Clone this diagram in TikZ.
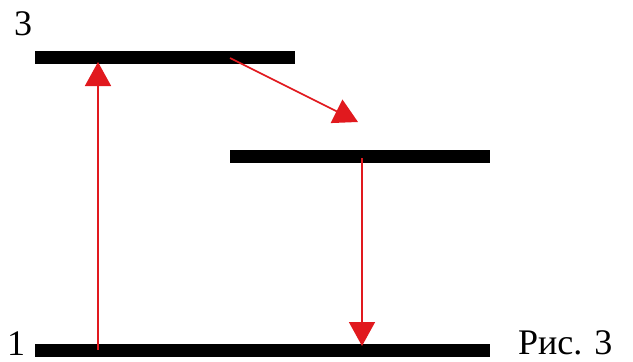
\documentclass[tikz,border=0pt]{standalone}
\usepackage{fontspec}
\setmainfont{Liberation Serif}
\usetikzlibrary{arrows.meta}
\definecolor{transRed}{RGB}{225,25,30}
\tikzset{
  level/.style={line width=13pt,black},
  trans/.style={line width=1.6pt,transRed,-{Triangle[width=26pt,length=24pt]}},
  lbl/.style={font=\fontsize{36}{40}\selectfont,inner sep=0pt},
}
\begin{document}
\begin{tikzpicture}[x=1pt,y=-1pt]
  \useasboundingbox (0,0) rectangle (633,362);
  % energy levels
  \coordinate (l3a) at (35,57);  \coordinate (l3b) at (295,57);
  \coordinate (l2a) at (230,156); \coordinate (l2b) at (490,156);
  \coordinate (l1a) at (35,350); \coordinate (l1b) at (490,350);
  \draw[level](l3a)--(l3b);
  \draw[level](l2a)--(l2b);
  \draw[level](l1a)--(l1b);

  \node[lbl] (n3) at (23,24) {3};
  \node[lbl,anchor=base] (n1) at (16,355) {1};
  \node[lbl,anchor=base west] (fig) at (518,354) {Рис. 3};

  % transitions
  \coordinate (up0) at (98,350);   \coordinate (up1) at (98,62);
  \coordinate (dg0) at (230,58);   \coordinate (dg1) at (358,122);
  \coordinate (dn0) at (362,158);  \coordinate (dn1) at (362,346);
  \draw[trans](up0)--(up1);
  \draw[trans](dg0)--(dg1);
  \draw[trans](dn0)--(dn1);
\end{tikzpicture}
\end{document}
